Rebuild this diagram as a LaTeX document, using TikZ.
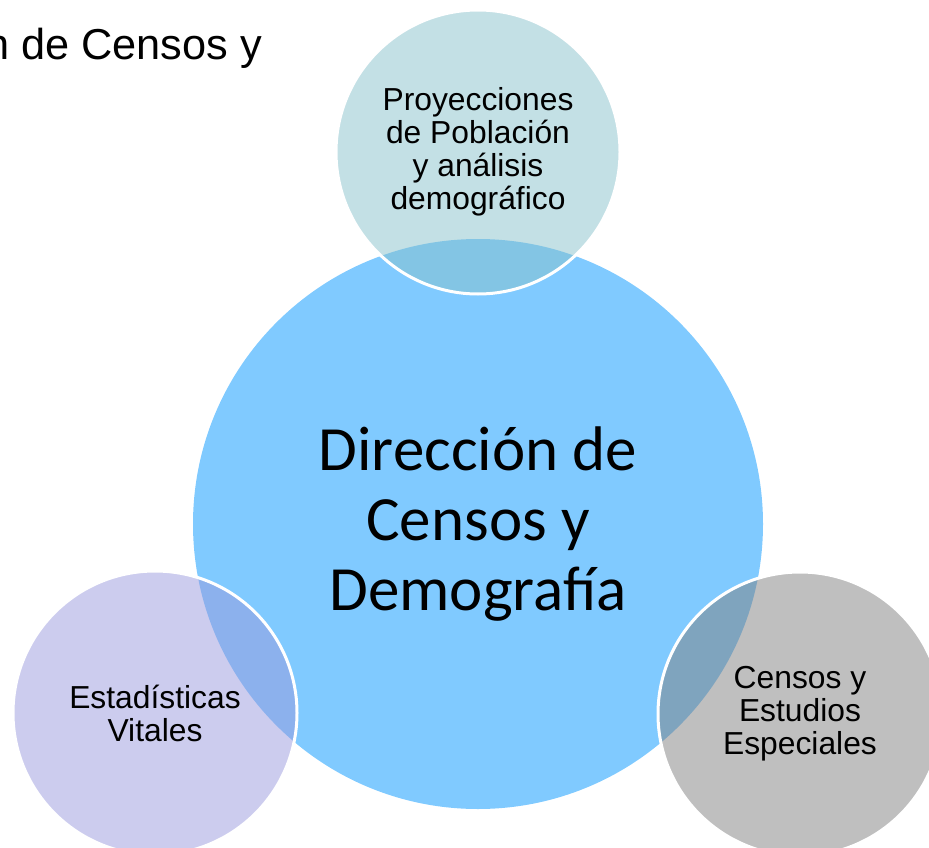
\documentclass[tikz,border=0pt]{standalone}
\usepackage{fontspec}
\setmainfont{Liberation Sans}
\newfontfamily\calibri{Carlito}
\usetikzlibrary{positioning}
\definecolor{coreblue}{HTML}{80CAFF}
\definecolor{tealfill}{HTML}{87C1CB}
\definecolor{lilacfill}{HTML}{9999DD}
\definecolor{greyfill}{HTML}{7F7F7F}
\tikzset{
  core/.style={circle, fill=coreblue, inner sep=0pt, minimum size=570pt,
    align=center, font=\calibri\fontsize{63}{70}\selectfont},
  bubble/.style={circle, draw=white, line width=3pt, fill opacity=0.5,
    text opacity=1, inner sep=0pt, minimum size=284pt, align=center,
    font=\fontsize{31.8}{33}\selectfont},
}

\begin{document}
\begin{tikzpicture}[x=1pt,y=-1pt]
  \useasboundingbox (0,0) rectangle (929,848);
  \node[anchor=base east, inner sep=0pt, font=\fontsize{43.3}{50}\selectfont] (title) at (262,60) {n de Censos y};
  \node[core] (dcd) at (478,524) {Dirección de\\Censos y\\Demografía};
  \node[bubble, fill=tealfill] (proy) at (478,152) {Proyecciones\\de Población\\y análisis\\demográfico};
  \node[bubble, fill=lilacfill] (vitales) at (155,713) {Estadísticas\\Vitales};
  \node[bubble, fill=greyfill] (censos) at (800,714) {Censos y\\Estudios\\Especiales};
\end{tikzpicture}
\end{document}
